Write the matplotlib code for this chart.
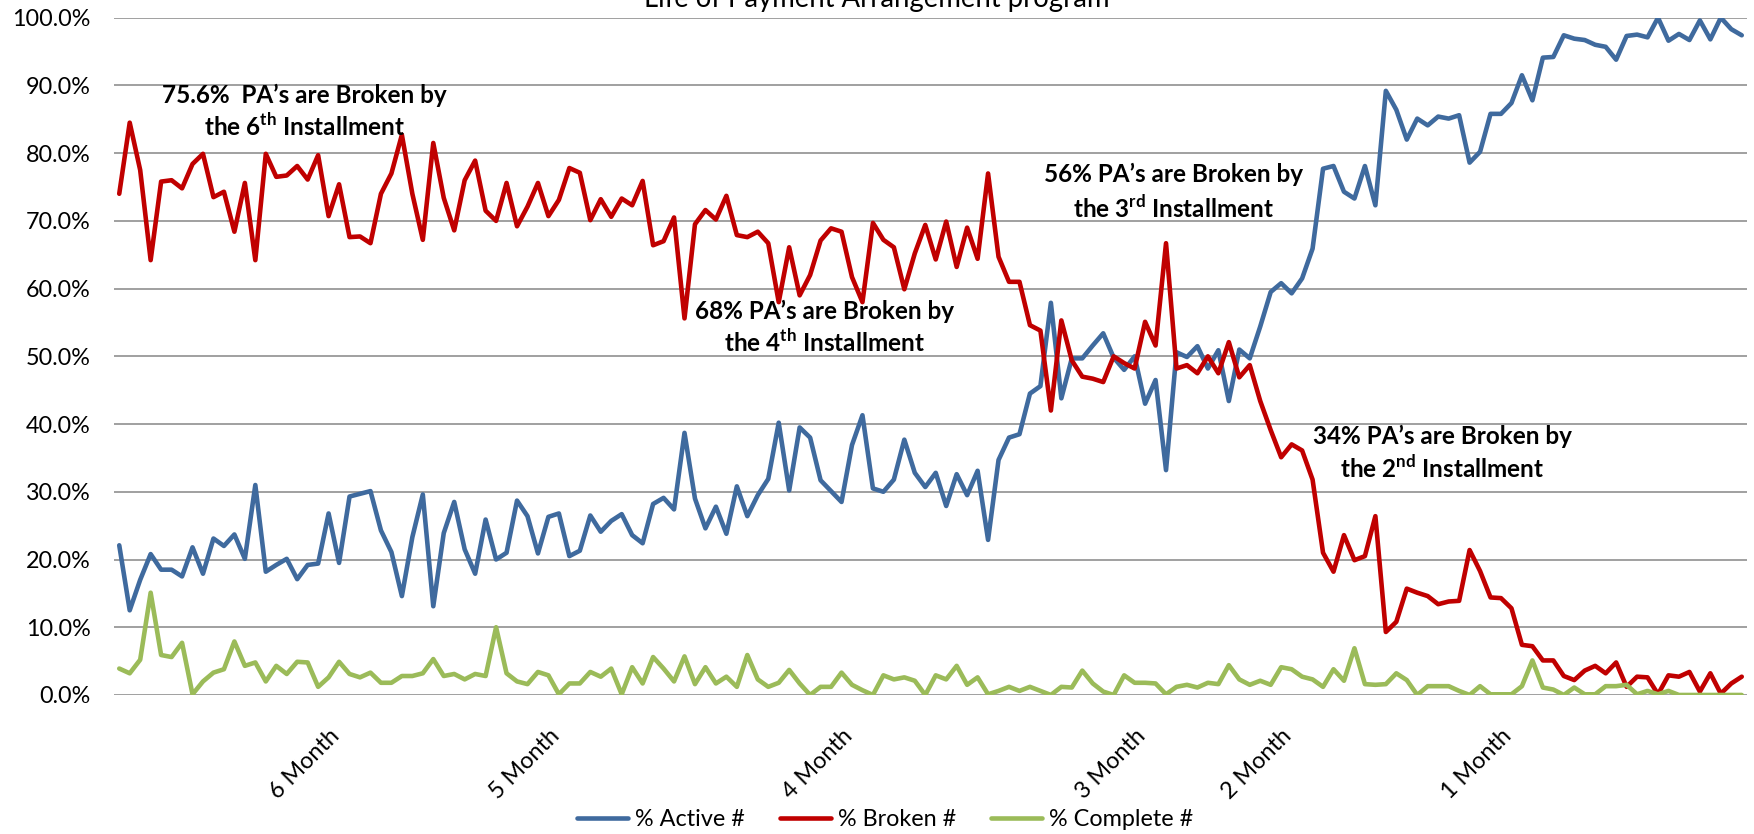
import matplotlib

matplotlib.use("Agg")
import matplotlib.pyplot as plt
from matplotlib.ticker import PercentFormatter

plt.rcParams["font.family"] = ["Lato", "DejaVu Sans"]
plt.rcParams["mathtext.fontset"] = "custom"
plt.rcParams["mathtext.rm"] = "Lato"
plt.rcParams["mathtext.bf"] = "Lato:bold"

# share of payment arrangements (%) per category, oldest on the left
active = [
    22.1, 12.5, 17.0, 20.8, 18.5, 18.5, 17.5, 21.8, 17.9, 23.1,
    22.0, 23.7, 20.1, 31.0, 18.2, 19.2, 20.1, 17.1, 19.2, 19.4,
    26.8, 19.5, 29.3, 29.7, 30.1, 24.3, 21.1, 14.6, 23.3, 29.6,
    13.1, 23.9, 28.5, 21.5, 17.9, 25.9, 20.0, 21.0, 28.7, 26.4,
    20.9, 26.3, 26.8, 20.5, 21.3, 26.5, 24.1, 25.7, 26.7, 23.6,
    22.4, 28.2, 29.1, 27.4, 38.7, 29.0, 24.6, 27.8, 23.8, 30.8,
    26.4, 29.5, 31.9, 40.2, 30.2, 39.5, 38.0, 31.7, 30.1, 28.5,
    36.9, 41.3, 30.5, 30.0, 31.8, 37.7, 32.8, 30.7, 32.8, 27.9,
    32.6, 29.5, 33.1, 22.9, 34.7, 38.0, 38.5, 44.5, 45.6, 57.9,
    43.8, 49.7, 49.7, 51.6, 53.4, 49.8, 48.0, 50.0, 43.0, 46.5,
    33.2, 50.6, 49.9, 51.5, 48.2, 50.9, 43.4, 51.0, 49.7, 54.4,
    59.5, 60.8, 59.3, 61.5, 65.9, 77.7, 78.1, 74.3, 73.3, 78.1,
    72.3, 89.2, 86.4, 82.0, 85.1, 84.1, 85.4, 85.1, 85.6, 78.6,
    80.2, 85.8, 85.8, 87.4, 91.5, 87.8, 94.1, 94.2, 97.4, 96.9,
    96.7, 96.0, 95.7, 93.8, 97.3, 97.5, 97.1, 100.0, 96.6, 97.6,
    96.7, 99.6, 96.8, 100.0, 98.3, 97.4,
]
broken = [
    74.0, 84.5, 77.5, 64.2, 75.8, 76.0, 74.8, 78.4, 79.9, 73.5,
    74.3, 68.4, 75.6, 64.2, 79.9, 76.5, 76.7, 78.1, 76.1, 79.7,
    70.7, 75.4, 67.6, 67.7, 66.7, 74.0, 77.0, 82.7, 74.0, 67.2,
    81.5, 73.4, 68.6, 76.0, 78.9, 71.5, 70.0, 75.6, 69.2, 72.1,
    75.6, 70.7, 73.1, 77.8, 77.1, 70.1, 73.2, 70.6, 73.3, 72.3,
    75.9, 66.4, 67.0, 70.5, 55.6, 69.5, 71.6, 70.2, 73.7, 67.9,
    67.6, 68.4, 66.7, 58.0, 66.1, 59.0, 62.0, 67.1, 68.9, 68.4,
    61.7, 58.0, 69.7, 67.2, 66.1, 59.9, 65.2, 69.4, 64.3, 69.9,
    63.2, 69.0, 64.4, 77.0, 64.7, 61.0, 61.0, 54.6, 53.8, 42.0,
    55.3, 49.4, 47.0, 46.7, 46.2, 50.0, 49.0, 48.2, 55.1, 51.6,
    66.7, 48.2, 48.7, 47.5, 50.0, 47.5, 52.1, 46.9, 48.7, 43.4,
    39.1, 35.1, 37.0, 36.1, 31.8, 21.0, 18.2, 23.6, 19.9, 20.5,
    26.4, 9.3, 10.8, 15.7, 15.1, 14.6, 13.4, 13.8, 13.9, 21.4,
    18.3, 14.4, 14.3, 12.8, 7.4, 7.2, 5.1, 5.1, 2.8, 2.2,
    3.6, 4.3, 3.2, 4.8, 1.2, 2.7, 2.6, 0.1, 2.9, 2.7,
    3.4, 0.5, 3.2, 0.2, 1.7, 2.7,
]
complete = [
    3.9, 3.2, 5.2, 15.1, 5.9, 5.6, 7.7, 0.1, 2.0, 3.3,
    3.8, 7.9, 4.3, 4.8, 2.0, 4.3, 3.1, 4.9, 4.8, 1.2,
    2.6, 4.9, 3.1, 2.6, 3.3, 1.8, 1.8, 2.8, 2.8, 3.2,
    5.3, 2.8, 3.1, 2.3, 3.1, 2.8, 10.0, 3.2, 2.0, 1.6,
    3.4, 2.9, 0.1, 1.7, 1.7, 3.4, 2.7, 3.9, 0.1, 4.1,
    1.7, 5.6, 3.9, 2.0, 5.7, 1.6, 4.1, 1.7, 2.7, 1.2,
    5.9, 2.3, 1.2, 1.8, 3.7, 1.7, 0.0, 1.2, 1.2, 3.3,
    1.5, 0.7, 0.0, 2.9, 2.3, 2.6, 2.1, 0.0, 2.9, 2.3,
    4.3, 1.5, 2.6, 0.1, 0.6, 1.2, 0.6, 1.2, 0.6, 0.0,
    1.2, 1.1, 3.6, 1.7, 0.5, 0.0, 2.9, 1.8, 1.8, 1.7,
    0.1, 1.2, 1.5, 1.1, 1.8, 1.6, 4.4, 2.3, 1.5, 2.1,
    1.5, 4.1, 3.8, 2.7, 2.3, 1.2, 3.8, 2.1, 6.9, 1.6,
    1.5, 1.6, 3.2, 2.2, 0.0, 1.3, 1.3, 1.3, 0.6, 0.0,
    1.3, 0.1, 0.1, 0.1, 1.3, 5.1, 1.1, 0.8, 0.0, 1.1,
    0.1, 0.1, 1.3, 1.3, 1.5, 0.1, 0.6, 0.1, 0.6, 0.0,
    0.0, 0.0, 0.0, 0.0, 0.0, 0.0,
]

# only a few categories carry a label on the axis
month_idx = [20, 41, 69, 97, 111, 132]
month_names = ["6 Month", "5 Month", "4 Month", "3 Month", "2 Month", "1 Month"]

series_names = ["% Active #", "% Broken #", "% Complete #"]
series_colors = ["#3F6A9E", "#C00000", "#9BBB59"]

notes = [
    ("75.6%  PA\u2019s are Broken by", r"the 6$^{\mathbf{th}}$ Installment", 17.7, 88.6, 84.0),
    ("68% PA\u2019s are Broken by", r"the 4$^{\mathbf{th}}$ Installment", 67.4, 56.7, 52.0),
    ("56% PA\u2019s are Broken by", r"the 3$^{\mathbf{rd}}$ Installment", 100.7, 76.8, 71.9),
    ("34% PA\u2019s are Broken by", r"the 2$^{\mathbf{nd}}$ Installment", 126.4, 38.2, 33.5),
]

fig = plt.figure(figsize=(17.54, 8.34), dpi=100)
ax = fig.add_axes([0.065, 0.1667, 0.931, 0.8121])

x = list(range(len(active)))
for vals, name, color in zip([active, broken, complete], series_names, series_colors):
    ax.plot(x, vals, color=color, lw=3.3, label=name, zorder=3,
            solid_joinstyle="round", solid_capstyle="round")

ax.set_xlim(-0.5, len(active) - 0.5)
ax.set_ylim(0, 100)
ax.set_yticks(range(0, 101, 10))
ax.yaxis.set_major_formatter(PercentFormatter(xmax=100, decimals=1))
ax.grid(axis="y", color="#868686", lw=1.1, zorder=0)
for s in ax.spines.values():
    s.set_visible(False)

ax.set_xticks(month_idx, month_names)
for lab in ax.get_xticklabels():
    lab.set_rotation(45)
    lab.set_ha("right")
    lab.set_rotation_mode("anchor")
ax.tick_params(axis="x", length=0, pad=22, labelsize=16.8)
ax.tick_params(axis="y", length=0, pad=17, labelsize=16.8)

for line1, line2, nx, y1, y2 in notes:
    ax.text(nx, y1, line1, ha="center", va="center", fontsize=17.5, fontweight="bold")
    ax.text(nx, y2, line2, ha="center", va="center", fontsize=17.5, fontweight="bold")

fig.text(0.5, 1 - 7 / 834, "Life of Payment Arrangement program",
         ha="center", va="baseline", fontsize=19.8)

fig.legend(loc="center", bbox_to_anchor=(885 / 1754, 1 - 820 / 834), ncol=3,
           frameon=False, fontsize=16.8, handlelength=2.2, handletextpad=0.3,
           columnspacing=1.5)

fig.savefig("out.png", dpi=100)
plt.close(fig)
